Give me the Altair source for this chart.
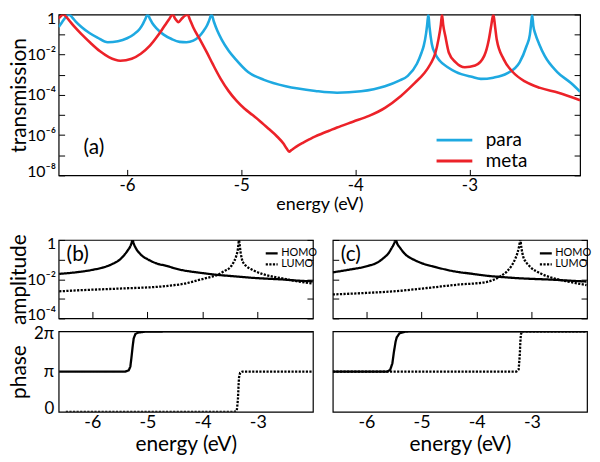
import altair as alt
import pandas as pd

# ---------------- panel (a): transmission, log10 values ----------------
para_E = [-6.60, -6.57, -6.54, -6.52, -6.51, -6.50, -6.48, -6.45, -6.40, -6.33, -6.26, -6.17,
          -6.08, -6.00, -5.94, -5.89, -5.86, -5.84, -5.82, -5.80, -5.78, -5.74, -5.68, -5.61,
          -5.54, -5.48, -5.42, -5.37, -5.33, -5.30, -5.28, -5.26, -5.24, -5.21, -5.17, -5.11,
          -5.05, -4.94, -4.80, -4.61, -4.35, -4.16, -3.95, -3.74, -3.62, -3.54, -3.46, -3.42,
          -3.40, -3.38, -3.37, -3.36, -3.35, -3.33, -3.30, -3.26, -3.19, -3.12, -2.98, -2.90,
          -2.79, -2.67, -2.56, -2.50, -2.47, -2.46, -2.45, -2.44, -2.42, -2.39, -2.34, -2.23,
          -2.11, -2.03]
para_logT = [-0.62, -0.38, -0.15, -0.03, 0.0, -0.03, -0.15, -0.35, -0.62, -0.92, -1.15, -1.38,
             -1.33, -1.18, -0.98, -0.72, -0.45, -0.22, 0.0, -0.22, -0.42, -0.70, -1.00, -1.22,
             -1.36, -1.38, -1.30, -1.10, -0.82, -0.55, -0.28, 0.0, -0.35, -0.80, -1.26, -1.80,
             -2.22, -2.86, -3.25, -3.57, -3.80, -3.89, -3.82, -3.57, -3.30, -3.05, -2.45, -1.90,
             -1.55, -0.95, -0.50, 0.0, -0.60, -1.45, -1.95, -2.30, -2.62, -2.85, -3.10, -3.20,
             -3.14, -2.93, -2.38, -1.58, -1.00, -0.50, 0.0, -0.55, -1.00, -1.45, -2.06, -2.86,
             -3.41, -3.84]

meta_E = [-6.60, -6.58, -6.56, -6.54, -6.51, -6.46, -6.40, -6.32, -6.24, -6.16, -6.06, -5.96,
          -5.88, -5.80, -5.73, -5.67, -5.63, -5.60, -5.58, -5.55, -5.52, -5.49, -5.47, -5.45,
          -5.42, -5.36, -5.30, -5.25, -5.18, -5.11, -5.04, -4.97, -4.90, -4.83, -4.76, -4.69,
          -4.63, -4.60, -4.58, -4.56, -4.52, -4.46, -4.40, -4.35, -4.30, -4.23, -4.16, -4.02,
          -3.88, -3.74, -3.60, -3.48, -3.40, -3.34, -3.30, -3.27, -3.25, -3.24, -3.23, -3.21,
          -3.18, -3.12, -3.04, -2.95, -2.87, -2.83, -2.81, -2.79, -2.775, -2.76, -2.70, -2.62,
          -2.51, -2.38, -2.22, -2.03]
meta_logT = [-0.20, -0.08, 0.0, -0.08, -0.28, -0.62, -0.98, -1.42, -1.82, -2.12, -2.30, -2.20,
             -1.95, -1.55, -1.05, -0.55, -0.22, 0.0, -0.20, -0.38, -0.20, -0.05, 0.0, -0.25,
             -0.65, -1.26, -1.90, -2.46, -3.20, -3.81, -4.30, -4.69, -5.00, -5.33, -5.68, -6.04,
             -6.42, -6.68, -6.82, -6.74, -6.58, -6.38, -6.20, -6.06, -5.94, -5.78, -5.62, -5.33,
             -5.04, -4.64, -4.05, -3.41, -2.95, -2.45, -1.95, -1.20, -0.50, 0.0, -0.50, -1.10,
             -1.90, -2.38, -2.62, -2.54, -2.06, -1.26, -0.60, 0.0, -0.60, -1.26, -2.22, -2.86,
             -3.34, -3.65, -3.89, -4.26]

series_names = ["para", "meta"]
series_colors = ["#1EA9E1", "#EC2229"]

# ---------------- panels (b), (c): amplitude (log10) and phase (units of pi) ----------------
b_homo_E = [-6.60, -6.30, -5.99, -5.80, -5.64, -5.50, -5.41, -5.35, -5.31, -5.29, -5.27, -5.25,
            -5.21, -5.12, -5.00, -4.85, -4.66, -4.40, -4.08, -3.73, -3.40, -3.10, -2.80, -2.52,
            -2.30, -2.00]
b_homo_logA = [-1.73, -1.65, -1.52, -1.40, -1.23, -1.00, -0.73, -0.50, -0.32, -0.18, 0.0, -0.18,
               -0.42, -0.75, -0.98, -1.18, -1.32, -1.52, -1.66, -1.78, -1.86, -1.93, -1.98, -2.02,
               -2.07, -2.11]
b_lumo_E = [-6.60, -6.20, -5.52, -4.66, -4.25, -4.08, -3.90, -3.73, -3.60, -3.50, -3.44, -3.39,
            -3.36, -3.35, -3.34, -3.33, -3.31, -3.29, -3.27, -3.20, -3.10, -2.90, -2.70, -2.52,
            -2.30, -2.00]
b_lumo_logA = [-2.62, -2.56, -2.48, -2.35, -2.18, -2.05, -1.92, -1.78, -1.58, -1.40, -1.15, -0.82,
               -0.45, -0.20, -0.02, -0.20, -0.65, -0.95, -1.12, -1.35, -1.52, -1.75, -1.88, -1.98,
               -2.10, -2.23]
c_homo_E = [-6.61, -6.32, -5.97, -5.80, -5.68, -5.60, -5.54, -5.50, -5.47, -5.44, -5.39, -5.30,
            -5.16, -5.00, -4.76, -4.41, -4.10, -3.83, -3.50, -3.25, -2.95, -2.67, -2.35, -2.01]
c_homo_logA = [-1.65, -1.52, -1.32, -1.15, -0.90, -0.68, -0.40, -0.20, 0.0, -0.20, -0.40, -0.72,
               -0.98, -1.18, -1.37, -1.60, -1.72, -1.82, -1.90, -1.95, -1.99, -2.02, -2.07, -2.12]
c_lumo_E = [-6.61, -6.00, -5.51, -4.90, -4.35, -3.83, -3.57, -3.45, -3.37, -3.30, -3.26, -3.23,
            -3.21, -3.19, -3.16, -3.10, -3.02, -2.85, -2.67, -2.35, -2.01]
c_lumo_logA = [-2.78, -2.70, -2.62, -2.45, -2.28, -2.15, -1.85, -1.60, -1.32, -0.95, -0.65, -0.30,
               0.0, -0.40, -0.82, -1.15, -1.40, -1.70, -1.90, -2.12, -2.30]

b_homo_phE = [-6.60, -5.40, -5.34, -5.31, -5.29, -5.27, -5.25, -5.22, -5.17, -5.05, -4.50, -2.00]
b_homo_ph = [1.0, 1.0, 1.03, 1.12, 1.35, 1.60, 1.82, 1.93, 1.97, 1.99, 2.0, 2.0]
b_lumo_phE = [-6.48, -3.42, -3.38, -3.36, -3.35, -3.34, -3.32, -3.28, -2.00]
b_lumo_ph = [0.0, 0.0, 0.03, 0.30, 0.60, 0.85, 0.97, 1.0, 1.0]
c_homo_phE = [-6.61, -5.62, -5.57, -5.53, -5.50, -5.47, -5.45, -5.40, -5.30, -5.20, -2.01]
c_homo_ph = [1.0, 1.0, 1.04, 1.20, 1.50, 1.75, 1.85, 1.95, 1.99, 2.0, 2.0]
c_lumo_phE = [-6.61, -3.28, -3.24, -3.22, -3.21, -3.20, -3.18, -2.01]
c_lumo_ph = [1.0, 1.0, 1.05, 1.40, 1.70, 1.92, 2.0, 2.0]

orbitals = ["HOMO", "LUMO"]
panel_labels = ["(a)", "(b)", "(c)"]
energy_ticks = [-6, -5, -4, -3]

FONT = "Lato"


def frame(rows):
    return pd.DataFrame(rows)


top_rows = []
for name, es, ls in [("para", para_E, para_logT), ("meta", meta_E, meta_logT)]:
    for e, l in zip(es, ls):
        top_rows.append({"E": e, "T": 10 ** l, "s": name})
top_df = frame(top_rows)


def amp_df(homo_E, homo_l, lumo_E, lumo_l):
    rows = [{"E": e, "A": 10 ** l, "o": "HOMO"} for e, l in zip(homo_E, homo_l)]
    rows += [{"E": e, "A": 10 ** l, "o": "LUMO"} for e, l in zip(lumo_E, lumo_l)]
    return frame(rows)


def phase_df(homo_E, homo_p, lumo_E, lumo_p):
    rows = [{"E": e, "P": p, "o": "HOMO"} for e, p in zip(homo_E, homo_p)]
    rows += [{"E": e, "P": p, "o": "LUMO"} for e, p in zip(lumo_E, lumo_p)]
    return frame(rows)


LOG_LABEL = ("(round(log(datum.value)/LN10) % 2 != 0) ? '' : (datum.value > 0.5 ? '1' : "
             "'10\u207b' + ['\u2070','\u00b9','\u00b2','\u00b3','\u2074','\u2075','\u2076','\u2077','\u2078']"
             "[-round(log(datum.value)/LN10)])")
X_LABEL = "'-' + abs(datum.value)"

TICK = 6
TITLE_X = -29   # title anchor distance left of the plot edge


def in_axis(**kw):
    base = dict(domain=False, grid=False, tickSize=TICK, offset=-TICK, tickColor="black",
                tickWidth=1, labelColor="black", titleColor="black", labelFont=FONT, titleFont=FONT,
                titleFontWeight="normal")
    base.update(kw)
    return alt.Axis(**base)


# ---------------- top panel ----------------
W_TOP, H_TOP = 525, 162
xs_top = alt.Scale(domain=[-6.6, -2.03], nice=False, zero=False)
ys_top = alt.Scale(type="log", domain=[1e-8, 1], nice=False)
decades8 = [10.0 ** -k for k in range(0, 9)]

top_line = alt.Chart(top_df).mark_line(strokeWidth=2.6, clip=True, interpolate="monotone").encode(
    x=alt.X("E:Q", scale=xs_top,
            axis=in_axis(values=energy_ticks, labelExpr=X_LABEL, title="energy (eV)",
                         labelFontSize=17, titleFontSize=18, labelPadding=2, titlePadding=2)),
    y=alt.Y("T:Q", scale=ys_top,
            axis=in_axis(values=decades8, labelExpr=LOG_LABEL, title="transmission",
                         labelFontSize=16, titleFontSize=21, labelPadding=3,
                         labelFlush=True, labelFlushOffset=4,
                         titleX=TITLE_X - TICK, orient="left")),
    color=alt.Color("s:N", scale=alt.Scale(domain=series_names, range=series_colors),
                    legend=alt.Legend(orient="none", legendX=388, legendY=116, title=None,
                                      padding=0, symbolType="M-2,0L2,0", symbolSize=324,
                                      symbolStrokeWidth=3, labelFontSize=19, labelFont=FONT,
                                      labelOffset=21, rowPadding=-2, labelColor="black")),
    order="E:Q",
)
top_ghost = alt.Chart(top_df).mark_point(opacity=0).encode(
    y=alt.Y("T:Q", scale=ys_top, axis=in_axis(values=decades8, labels=False, title=None,
                                               orient="right")),
)
lab_a = alt.Chart(frame({"t": [panel_labels[0]]})).mark_text(
    font=FONT, fontSize=21, align="left", baseline="middle", color="black"
).encode(text="t:N", x=alt.value(25), y=alt.value(134))

top = alt.layer(top_line, top_ghost, lab_a).resolve_axis(y="independent").properties(
    width=W_TOP, height=H_TOP)

# ---------------- bottom panels ----------------
W_B, W_C = 256, 256
H_AMP, H_PH = 79, 81
xs_bot = alt.Scale(domain=[-6.61, -2.0], nice=False, zero=False)
ys_amp = alt.Scale(type="log", domain=[1e-4, 1], nice=False)
ys_ph = alt.Scale(domain=[0, 2], nice=False, zero=False)
decades4 = [10.0 ** -k for k in range(0, 5)]
dash_scale = alt.Scale(domain=orbitals, range=[[1, 0], [2.2, 1.4]])
PH_LABEL = "datum.value == 0 ? '0' : (datum.value == 1 ? '\u03c0' : '2\u03c0')"


def amp_panel(df, show_labels, label_text, width):
    yaxis = in_axis(values=decades4, labels=show_labels, labelExpr=LOG_LABEL,
                    title="amplitude" if show_labels else None, labelFontSize=16,
                    titleFontSize=21, labelPadding=3, labelFlush=True, labelFlushOffset=4,
                    titleX=TITLE_X - TICK, orient="left")
    line = alt.Chart(df).mark_line(strokeWidth=2.3, color="black", clip=True,
                                   interpolate="monotone").encode(
        x=alt.X("E:Q", scale=xs_bot, axis=in_axis(values=energy_ticks, labels=False, title=None,
                                                  tickSize=7, offset=-7)),
        y=alt.Y("A:Q", scale=ys_amp, axis=yaxis),
        strokeDash=alt.StrokeDash("o:N", scale=dash_scale,
                                  legend=alt.Legend(orient="none", legendX=width - 47, legendY=8,
                                                    title=None, padding=0,
                                                    symbolType="M-2,0L2,0", symbolSize=36,
                                                    symbolStrokeWidth=2.3,
                                                    symbolStrokeColor="black",
                                                    labelFontSize=11, labelFont=FONT,
                                                    labelOffset=4, rowPadding=-1,
                                                    labelColor="black")),
        order="E:Q",
    )
    ghost = alt.Chart(df).mark_point(opacity=0).encode(
        y=alt.Y("A:Q", scale=ys_amp, axis=in_axis(values=decades4, labels=False, title=None,
                                                  orient="right")),
    )
    lab = alt.Chart(frame({"t": [label_text]})).mark_text(
        font=FONT, fontSize=21, align="left", baseline="middle", color="black"
    ).encode(text="t:N", x=alt.value(8), y=alt.value(15))
    return alt.layer(line, ghost, lab).resolve_axis(y="independent").properties(
        width=width, height=H_AMP)


def phase_panel(df, show_labels, width):
    yaxis = alt.Axis(domain=False, grid=False, ticks=False, values=[0, 1, 2], labels=show_labels,
                     labelExpr=PH_LABEL, title="phase" if show_labels else None,
                     labelFontSize=17, titleFontSize=21, labelPadding=5, titleX=TITLE_X,
                     labelFlush=True, labelFlushOffset=6,
                     labelFont=FONT, titleFont=FONT, titleFontWeight="normal",
                     labelColor="black", titleColor="black")
    xaxis = alt.Axis(domain=False, grid=False, ticks=False, values=energy_ticks,
                     labelExpr=X_LABEL, title="energy (eV)", labelFontSize=18,
                     titleFontSize=21, labelPadding=2, titlePadding=2, labelFont=FONT,
                     titleFont=FONT, titleFontWeight="normal", labelColor="black",
                     titleColor="black")
    return alt.Chart(df).mark_line(strokeWidth=2.3, color="black", clip=True).encode(
        x=alt.X("E:Q", scale=xs_bot, axis=xaxis),
        y=alt.Y("P:Q", scale=ys_ph, axis=yaxis),
        strokeDash=alt.StrokeDash("o:N", scale=dash_scale, legend=None),
        order="E:Q",
    ).properties(width=width, height=H_PH)


b_amp = amp_panel(amp_df(b_homo_E, b_homo_logA, b_lumo_E, b_lumo_logA), True, panel_labels[1], W_B)
c_amp = amp_panel(amp_df(c_homo_E, c_homo_logA, c_lumo_E, c_lumo_logA), False, panel_labels[2], W_C)
b_ph = phase_panel(phase_df(b_homo_phE, b_homo_ph, b_lumo_phE, b_lumo_ph), True, W_B)
c_ph = phase_panel(phase_df(c_homo_phE, c_homo_ph, c_lumo_phE, c_lumo_ph), False, W_C)

col_b = alt.vconcat(b_amp, b_ph, spacing=13, bounds="flush")
col_c = alt.vconcat(c_amp, c_ph, spacing=13, bounds="flush")
bottom = alt.hconcat(col_b, col_c, spacing=13).resolve_scale(strokeDash="independent")

chart = alt.vconcat(top, bottom, spacing=19).resolve_scale(
    strokeDash="independent", color="independent"
).properties(
    padding={"left": 0, "top": 0, "right": 0, "bottom": 0}
).configure(
    font=FONT, background="white"
).configure_view(
    stroke="black", strokeWidth=1.2
)

chart.save("out.html", embed_options={"renderer": "svg", "actions": False})
